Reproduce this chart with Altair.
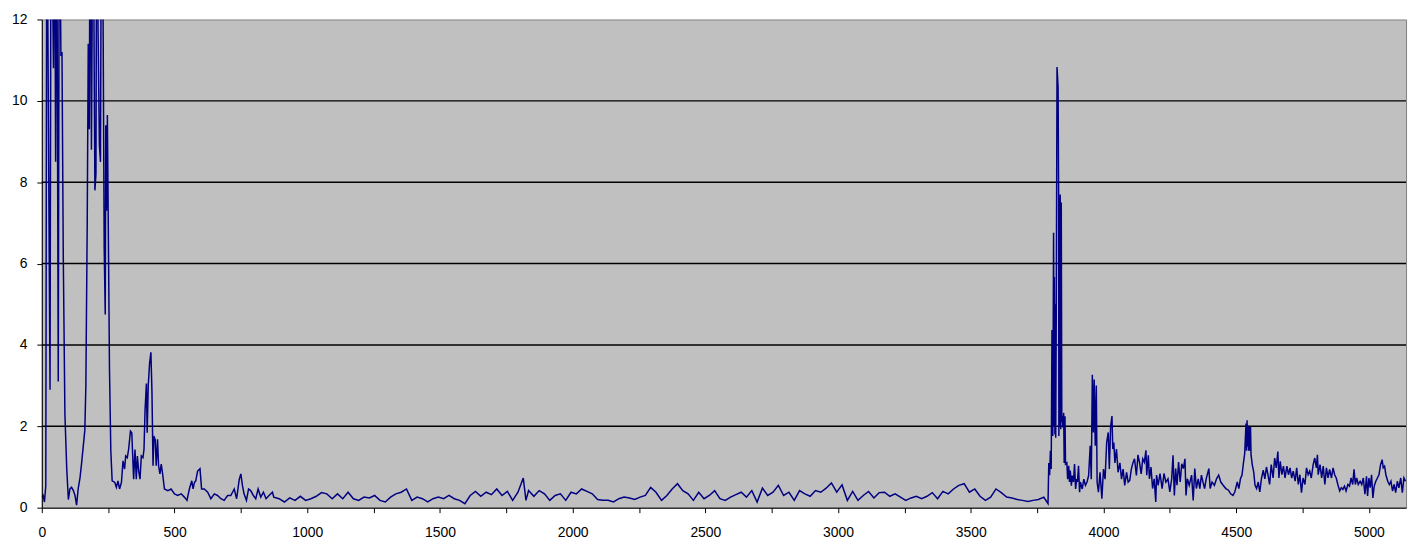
import altair as alt
import pandas as pd

# ---- data (x position, value) ----
xA = [0, 5, 10, 15, 19, 31, 35, 44, 48, 52, 56, 62, 66, 72, 76, 81, 87, 94, 100, 106,
      112, 119, 125, 131, 137, 144, 150, 156, 162, 166, 171, 175, 179, 182, 187, 193, 200,
      204, 207, 212, 217, 221, 225, 231, 235, 239, 241, 244, 247, 250, 255, 260, 265, 275,
      281, 287, 293, 300, 306, 312, 316, 322, 327, 334, 339, 342, 346, 351, 356, 360, 365,
      370, 375, 381, 385, 389, 394, 397, 401, 406, 411, 415, 419, 422, 427, 431, 436, 440,
      445, 450, 456, 462, 475, 487, 500, 512, 525, 537, 547, 556, 565, 570, 575, 580, 587,
      596, 602, 612, 625, 637, 650, 662, 675, 687, 700, 712, 725, 734, 744, 750, 756, 762,
      771, 779, 787, 797, 806, 815, 825, 835, 845, 856, 869]
yA = [0.25, 0.3, 0.14, 0.54, 16, 2.9, 16, 10.8, 16, 8.5, 16, 3.1, 16, 11.1, 11.2, 6.1, 2.3, 0.95, 0.2, 0.46,
      0.5, 0.42, 0.3, 0.06, 0.46, 0.74, 1.1, 1.5, 1.9, 3.0, 6.9, 11.4, 9.3, 16, 8.8, 16, 7.8,
      8.2, 16, 11.7, 8.9, 8.5, 16, 11.9, 6.4, 4.75, 9.4, 7.3, 9.65, 7.3, 3.4, 1.4, 0.66, 0.62,
      0.5, 0.66, 0.46, 0.62, 1.15, 0.95, 1.27, 1.23, 1.43, 1.88, 1.84, 1.35, 0.7, 1.43, 0.7, 1.27, 0.9,
      0.7, 1.27, 1.23, 1.43, 2.4, 3.05, 1.84, 3.0, 3.54, 3.82, 2.85, 1.03, 1.76, 1.68, 1.03, 1.68, 1.03,
      0.83, 1.07, 0.79, 0.46, 0.42, 0.46, 0.34, 0.3, 0.34, 0.26, 0.18, 0.46, 0.66, 0.46, 0.62, 0.66, 0.9,
      0.96, 0.46, 0.46, 0.38, 0.22, 0.34, 0.3, 0.22, 0.18, 0.3, 0.3, 0.46, 0.22, 0.7, 0.83, 0.54, 0.34,
      0.18, 0.46, 0.42, 0.3, 0.22, 0.46, 0.26, 0.38, 0.22, 0.3, 0.38]

xB = [874, 894, 914, 934, 954, 974, 994, 1014, 1034, 1054, 1074, 1094, 1114, 1134, 1154, 1174,
      1194, 1214, 1234, 1254, 1274, 1294, 1314, 1334, 1354, 1374, 1394, 1414, 1434, 1454, 1474,
      1494, 1514, 1534, 1554, 1574, 1594, 1614, 1634, 1654, 1674, 1694, 1714, 1734, 1754, 1774,
      1794, 1814, 1824, 1834, 1854, 1874, 1894, 1914, 1934, 1954, 1974, 1994, 2014, 2034, 2054,
      2074, 2094, 2114, 2134, 2154, 2174, 2194, 2214, 2234, 2254, 2274, 2294, 2314]
yB = [0.26, 0.22, 0.14, 0.24, 0.18, 0.28, 0.18, 0.22, 0.28, 0.37, 0.34, 0.22, 0.34, 0.22, 0.38, 0.22,
      0.18, 0.26, 0.24, 0.30, 0.18, 0.14, 0.26, 0.34, 0.38, 0.46, 0.18, 0.26, 0.22, 0.14, 0.22,
      0.26, 0.22, 0.30, 0.22, 0.18, 0.10, 0.30, 0.40, 0.28, 0.38, 0.32, 0.46, 0.30, 0.40, 0.18,
      0.38, 0.73, 0.18, 0.42, 0.28, 0.42, 0.34, 0.18, 0.30, 0.34, 0.18, 0.38, 0.34, 0.46, 0.40,
      0.34, 0.20, 0.18, 0.18, 0.14, 0.22, 0.26, 0.24, 0.20, 0.26, 0.30, 0.50, 0.38]

xC = [2335, 2355, 2375, 2395, 2415, 2435, 2455, 2475, 2495, 2515, 2535, 2555, 2575, 2595, 2615,
      2635, 2655, 2675, 2695, 2715, 2735, 2755, 2775, 2795, 2815, 2835, 2855, 2875, 2895, 2915,
      2935, 2955, 2975, 2995, 3015, 3035, 3055, 3075, 3095, 3115, 3135, 3155, 3175, 3195, 3215,
      3235, 3255, 3275, 3295, 3315, 3335, 3355, 3375, 3395, 3415, 3435, 3455, 3475, 3495, 3515,
      3535, 3555, 3575, 3595, 3615, 3635, 3655, 3675, 3695, 3715, 3735, 3755, 3775, 3787]
yC = [0.18, 0.30, 0.46, 0.59, 0.42, 0.34, 0.18, 0.38, 0.22, 0.30, 0.42, 0.22, 0.18, 0.26, 0.32,
      0.38, 0.26, 0.42, 0.14, 0.48, 0.30, 0.38, 0.55, 0.30, 0.38, 0.18, 0.42, 0.34, 0.28, 0.42,
      0.38, 0.48, 0.61, 0.38, 0.56, 0.18, 0.40, 0.18, 0.30, 0.40, 0.24, 0.37, 0.38, 0.28, 0.34,
      0.26, 0.18, 0.24, 0.28, 0.22, 0.28, 0.37, 0.22, 0.40, 0.34, 0.46, 0.55, 0.59, 0.38, 0.46,
      0.28, 0.18, 0.26, 0.46, 0.37, 0.26, 0.24, 0.20, 0.18, 0.15, 0.18, 0.20, 0.26, 0.14]

xD1 = [3791, 3794, 3797, 3800, 3803, 3806, 3809, 3812, 3814, 3815, 3817, 3818, 3820, 3822, 3825,
       3829, 3831, 3832, 3834, 3835, 3837, 3839, 3841, 3843, 3845, 3847, 3850, 3852, 3855, 3857,
       3862, 3865, 3869, 3872, 3875, 3879, 3882, 3887, 3891, 3895, 3899, 3902, 3906, 3910]
yD1 = [0.1, 1.1, 0.8, 1.4, 0.95, 4.37, 1.76, 6.76, 2.0, 5.67, 1.8, 5.0, 1.72, 4.53, 10.83,
       10.34, 7.7, 1.76, 7.6, 2.0, 7.7, 1.93, 7.5, 2.1, 2.25, 1.97, 2.33, 1.1, 2.25, 1.07,
       1.1, 0.7, 1.03, 0.63, 0.91, 0.54, 0.79, 0.63, 1.07, 0.46, 0.7, 0.63, 1.03, 0.38]

xD2 = [3913, 3920, 3926, 3932, 3938, 3944, 3950, 3954, 3958, 3962, 3965, 3969, 3973, 3976, 3981,
       3987, 3994, 4000, 4006, 4012, 4018, 4022, 4027, 4032, 4035, 4039, 4043, 4049, 4055, 4062,
       4068, 4074, 4080, 4087, 4093, 4099, 4105, 4111, 4117, 4124, 4130, 4136, 4142, 4148]
yD2 = [0.63, 0.46, 0.7, 0.55, 0.63, 0.79, 1.52, 0.7, 3.27, 1.85, 3.15, 1.52, 3.0, 0.63, 0.38,
       0.87, 0.22, 0.95, 0.7, 1.6, 1.85, 0.95, 2.0, 2.25, 1.44, 1.6, 1.1, 1.44, 0.87, 1.1,
       0.7, 0.95, 0.55, 0.87, 0.63, 0.67, 0.95, 1.1, 1.2, 0.79, 1.3, 1.1, 0.83, 1.2]

xE1 = [4154, 4160, 4163, 4169, 4173, 4179, 4185, 4191, 4197, 4200, 4206, 4213, 4221, 4228, 4235,
       4243, 4250, 4257, 4262, 4267, 4272, 4277, 4283, 4289, 4295, 4301, 4307, 4311, 4316, 4323,
       4332, 4338, 4344, 4350, 4357, 4363, 4369, 4375, 4381, 4387, 4397, 4402, 4409, 4418, 4426,
       4434, 4442, 4451, 4461, 4471, 4479, 4488, 4495, 4504, 4510, 4516, 4522, 4527, 4532, 4537,
       4539, 4541, 4543, 4545, 4547, 4549, 4551, 4554, 4556, 4561, 4566, 4571, 4577, 4583, 4589,
       4595, 4602, 4608, 4614, 4620]
yE1 = [1.12, 1.41, 0.8, 1.29, 0.71, 1.0, 0.47, 0.71, 0.14, 0.8, 0.55, 0.84, 0.47, 0.84, 0.63,
       0.71, 0.39, 0.71, 1.29, 0.3, 0.96, 0.55, 1.12, 0.63, 1.08, 0.96, 1.2, 0.3, 0.71, 0.55,
       0.8, 0.18, 0.96, 0.47, 0.71, 0.47, 0.8, 0.63, 0.47, 0.71, 0.96, 0.47, 0.63, 0.55, 0.71,
       0.8, 0.63, 0.55, 0.47, 0.43, 0.34, 0.3, 0.39, 0.63, 0.47, 0.71, 0.8, 1.08, 1.33, 2.07,
       1.4, 2.15, 1.5, 2.02, 1.4, 1.98, 1.4, 1.98, 1.29, 1.04, 0.88, 0.55, 0.47, 0.63, 0.39,
       0.71, 0.92, 0.71, 1.0, 0.8]

xE2 = [4626, 4632, 4639, 4645, 4651, 4657, 4661, 4666, 4672, 4678, 4684, 4691, 4697, 4703, 4709,
       4715, 4722, 4728, 4734, 4740, 4746, 4752, 4759, 4765, 4771, 4777, 4783, 4790, 4796, 4802,
       4806, 4809, 4816, 4822, 4828, 4834, 4840, 4846, 4852, 4859, 4865, 4871, 4877, 4883, 4890,
       4896, 4902, 4908, 4914, 4921, 4927, 4933, 4939, 4944, 4949, 4954, 4960, 4967, 4973, 4979,
       4985, 4991, 4995, 5000, 5005, 5010, 5015, 5020, 5026, 5032, 5038, 5044, 5050, 5054, 5059,
       5064, 5071, 5077, 5083, 5089, 5095, 5101, 5107, 5113, 5120, 5126, 5132, 5138]
yE2 = [0.57, 1.06, 0.73, 1.22, 0.98, 1.38, 0.73, 1.14, 0.81, 1.02, 0.73, 1.02, 0.81, 0.98, 0.73,
       0.9, 0.65, 0.98, 0.57, 0.81, 0.37, 0.73, 0.57, 0.98, 0.81, 0.9, 0.73, 1.06, 1.22, 0.98,
       1.3, 0.81, 1.06, 0.73, 1.02, 0.57, 0.98, 0.73, 0.94, 0.73, 0.98, 0.81, 0.73, 0.57, 0.41,
       0.49, 0.45, 0.53, 0.41, 0.57, 0.53, 0.73, 0.57, 0.94, 0.57, 0.73, 0.57, 0.65, 0.57, 0.73,
       0.33, 0.77, 0.29, 0.73, 0.49, 0.81, 0.24, 0.53, 0.65, 0.73, 0.81, 1.06, 1.18, 0.98, 1.02,
       0.81, 0.65, 0.57, 0.65, 0.41, 0.57, 0.37, 0.65, 0.49, 0.73, 0.37, 0.73, 0.65]

grid_levels = [2, 4, 6, 8, 10]
y_ticks = [0, 2, 4, 6, 8, 10, 12]
x_ticks = list(range(0, 5001, 250))

xs = xA + xB + xC + xD1 + xD2 + xE1 + xE2
ys = yA + yB + yC + yD1 + yD2 + yE1 + yE2
df = pd.DataFrame({"x": xs, "y": ys})
grid_df = pd.DataFrame({"g": grid_levels})

FONT = "Liberation Sans"

x_scale = alt.Scale(domain=[0, 5140], nice=False, zero=False)
y_scale = alt.Scale(domain=[0, 12], nice=False)

y_axis = alt.Axis(values=y_ticks, format="d", title=None, grid=False,
                  domainColor="black", tickColor="black", tickSize=5,
                  labelPadding=10, labelFont=FONT, labelFontSize=14,
                  labelColor="black", labelFlush=False, labelOverlap=False,
                  zindex=2)
x_axis = alt.Axis(values=x_ticks, format="d", title=None, grid=False,
                  labelExpr="datum.value % 500 == 0 ? datum.label : ''",
                  domainColor="black", tickColor="black", tickSize=5,
                  labelPadding=13, labelFont=FONT, labelFontSize=14,
                  labelColor="black", labelFlush=False, labelOverlap=False,
                  zindex=2)

grid = alt.Chart(grid_df).mark_rule(color="black", strokeWidth=1.4).encode(
    y=alt.Y("g:Q", scale=y_scale, axis=y_axis)
)

line = alt.Chart(df).mark_line(color="#000080", strokeWidth=1.5, clip=True).encode(
    x=alt.X("x:Q", scale=x_scale, axis=x_axis),
    y=alt.Y("y:Q", scale=y_scale, axis=y_axis),
)

chart = alt.layer(grid, line).properties(
    width=1372,
    height=491,
    padding={"left": 34, "top": 10, "right": 9, "bottom": 35},
    autosize=alt.AutoSizeParams(type="none"),
    background="white",
).configure_view(
    fill="#C0C0C0", stroke="#808080", strokeWidth=1
)

chart.save("out.html", embed_options={"renderer": "svg", "actions": False})
